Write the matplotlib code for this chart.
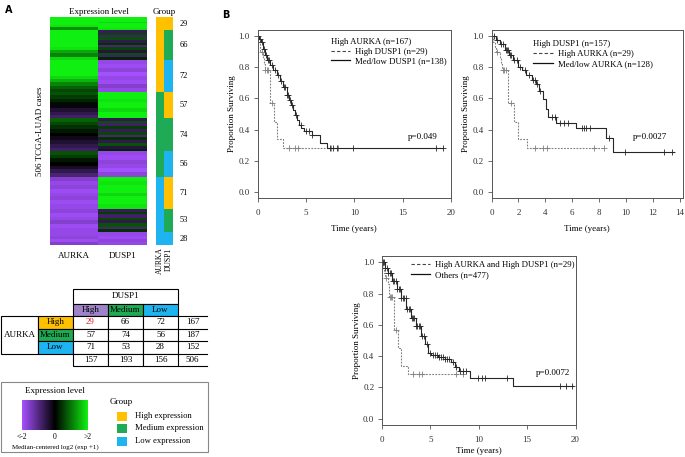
import numpy as np
import matplotlib
matplotlib.use("Agg")
import matplotlib.pyplot as plt
from matplotlib import transforms
from matplotlib.cm import ScalarMappable
from matplotlib.colors import LinearSegmentedColormap, Normalize, to_rgb
from matplotlib.lines import Line2D
from matplotlib.patches import Rectangle

W, H = 685, 457
plt.rcParams["font.family"] = "Liberation Serif"

# ---------------- data ----------------
levels = ["High", "Medium", "Low"]
# rows: AURKA high/medium/low, cols: DUSP1 high/medium/low
table_counts = [[29, 66, 72],
                [57, 74, 56],
                [71, 53, 28]]

# expression bands, top to bottom inside each group (median-centred log2)
aurka_bands = [
    [2, 2, 2, 1.9, 1.2],
    [2, 2, 2, 2, 2, 1.9, 1.4, 1.1, 1.8],
    [2, 2, 2, 2, 2, 1.8, 1.5, 1.1, 0.8, 0.6],
    [0.7, 0.5, 0.3, 0.1, -0.1, -0.4, -0.6, -0.8],
    [0.8, 0.6, 0.4, 0.2, 0.0, -0.2, -0.4, -0.6, -0.8],
    [0.7, 0.5, 0.2, 0.0, -0.3, -0.6, -0.9],
    [-1.6, -1.8, -1.7, -1.9, -1.8, -1.7, -1.9, -1.8],
    [-1.7, -1.9, -1.8, -1.6, -1.9, -1.8],
    [-1.8, -1.7, -1.9, -1.6],
]
dusp1_bands = [
    [2, 2, 1.8, 2, 2, 1.9],
    [-0.7, 0.6, -0.8, 0.7, -0.6, 0.4, -0.9, 0.6, -0.5, 0.7, -0.8, 0.3],
    [-1.8, -1.9, -1.7, -2, -1.8, -1.9, -1.6, -1.8],
    [2, 2, 1.9, 2, 2, 1.8, 2, 2],
    [-0.6, 0.7, -0.8, 0.5, -0.7, 0.6, -0.9, 0.4, -0.6, 0.7, -0.5, 0.3],
    [-1.8, -1.9, -1.7, -1.8, -2, -1.7],
    [2, 1.9, 2, 2, 1.8, 2, 2, 1.9],
    [-0.7, 0.5, -0.8, 0.6, -0.6, 0.7, -0.9, 0.4],
    [-1.8, -1.9, -1.7, -1.8],
]

# Kaplan-Meier: high AURKA and high DUSP1 (n=29), same group in all panels
hh_t = [0, 0.1, 0.25, 0.3, 0.6, 0.7, 0.75, 1.26, 1.70, 1.99, 2.66, 8.4]
hh_s = [1.0, 0.966, 0.931, 0.897, 0.86, 0.82, 0.78, 0.57, 0.45, 0.34, 0.284, 0.284]
hh_cens = [0.42, 0.82, 0.95, 1.08, 1.45, 3.25, 3.85, 4.15, 7.6, 8.35]

# high AURKA, med/low DUSP1 (n=138)
p1_t = [0, 0.2, 0.4, 0.6, 0.8, 1.0, 1.3, 1.6, 2.0, 2.3, 2.6, 3.0, 3.3, 3.5,
        3.7, 3.9, 4.1, 4.3, 4.5, 4.8, 5.59, 6.45, 7.14, 19.2]
p1_s = [1.0, 0.985, 0.96, 0.92, 0.88, 0.85, 0.818, 0.785, 0.753, 0.71, 0.674,
        0.625, 0.59, 0.56, 0.525, 0.496, 0.46, 0.43, 0.41, 0.39, 0.363, 0.315,
        0.279, 0.279]
p1_cens = [0.1, 0.3, 0.5, 0.7, 0.9, 1.1, 1.2, 1.5, 1.8, 2.1, 2.4, 2.7, 2.8,
           3.1, 3.2, 3.4, 3.6, 4.0, 4.45, 5.0, 5.3, 5.65, 7.5, 7.8, 8.2, 9.9,
           18.4, 19.2]

# high DUSP1, med/low AURKA (n=128)
p2_t = [0, 0.3, 0.6, 1.0, 1.3, 1.6, 2.0, 2.3, 2.6, 3.0, 3.3, 3.5, 3.8, 4.03,
        4.2, 4.8, 6.26, 8.49, 9.07, 13.6]
p2_s = [1.0, 0.975, 0.95, 0.91, 0.88, 0.85, 0.80, 0.78, 0.75, 0.72, 0.69,
        0.645, 0.595, 0.533, 0.482, 0.443, 0.41, 0.346, 0.258, 0.258]
p2_cens = [0.15, 0.4, 0.7, 0.85, 1.1, 1.18, 1.25, 1.35, 1.45, 1.7, 1.9, 2.1,
           2.5, 2.8, 3.1, 3.2, 3.4, 3.6, 4.5, 4.75, 5.1, 5.4, 5.7, 6.7, 6.9,
           7.05, 7.3, 8.75, 9.9, 12.85, 13.45]

# others (n=477)
p3_t = [0, 0.3, 0.6, 1.0, 1.5, 2.0, 2.5, 3.0, 3.5, 4.0, 4.4, 4.8, 5.1, 5.8,
        6.5, 7.1, 7.5, 8.0, 9.06, 13.55, 19.7]
p3_s = [1.0, 0.965, 0.93, 0.88, 0.83, 0.77, 0.70, 0.645, 0.59, 0.53, 0.475,
        0.42, 0.405, 0.395, 0.38, 0.36, 0.33, 0.305, 0.263, 0.207, 0.207]
p3_cens = [0.1, 0.2, 0.35, 0.5, 0.62, 0.8, 0.93, 1.1, 1.27, 1.4, 1.55, 1.72,
           1.85, 2.0, 2.17, 2.3, 2.46, 2.6, 2.77, 2.9, 3.05, 3.22, 3.35, 3.52,
           3.65, 3.8, 3.97, 4.1, 4.3, 4.6, 5.0, 5.3, 5.5, 5.7, 5.9, 6.1, 6.3,
           6.5, 6.7, 6.9, 7.3, 7.7, 8.1, 8.4, 8.7, 9.9, 10.3, 10.6, 12.9,
           18.4, 19.0, 19.6]

grp_colors = {"High": "#ffc000", "Medium": "#1faa55", "Low": "#1eb4f0"}
head_purple = "#9d84c8"
cmap = LinearSegmentedColormap.from_list("expr", ["#a550ff", "#000000", "#10f010"])

fig = plt.figure(figsize=(W / 100, H / 100), dpi=100)


def box(x0, y0, x1, y1, **kw):
    return fig.add_axes([x0 / W, 1 - y1 / H, (x1 - x0) / W, (y1 - y0) / H], **kw)


# overlay in pixel units, for the table and legend frame
ov = box(0, 0, W, H, zorder=-1)
ov.set_xlim(0, W)
ov.set_ylim(H, 0)
ov.axis("off")

ov.text(5, 10, "A", family="DejaVu Sans", weight="bold", fontsize=7, va="center")
ov.text(222, 15, "B", family="DejaVu Sans", weight="bold", fontsize=7, va="center")

# ---------------- heatmap ----------------
group_n = [c for row in table_counts for c in row]


def expand(bands, n):
    edges = np.linspace(0, n, len(bands) + 1).round().astype(int)
    return np.repeat(bands, np.diff(edges))


aurka_col = np.concatenate([expand(b, n) for b, n in zip(aurka_bands, group_n)])
dusp1_col = np.concatenate([expand(b, n) for b, n in zip(dusp1_bands, group_n)])
mat = np.column_stack([aurka_col, dusp1_col])

ax_h = box(50, 17, 147, 245)
ax_h.imshow(mat, aspect="auto", cmap=cmap, vmin=-2, vmax=2, interpolation="nearest")
ax_h.axis("off")
ax_h.set_title("Expression level", fontsize=6.5, pad=2)
tr = transforms.blended_transform_factory(ax_h.transData, ax_h.transAxes)
for i, g in enumerate(["AURKA", "DUSP1"]):
    ax_h.text(i, -0.03, g, transform=tr, ha="center", va="top", fontsize=6.5)
ax_h.text(-0.06, 0.5, "506 TCGA-LUAD cases", transform=ax_h.transAxes,
          rotation=90, ha="right", va="center", fontsize=6.5)

rgb = np.array([[to_rgb(grp_colors[levels[i // 3]]), to_rgb(grp_colors[levels[i % 3]])]
                for i, n in enumerate(group_n) for _ in range(n)])
ax_g = box(156, 17, 173, 245)
ax_g.imshow(rgb, aspect="auto", interpolation="nearest")
ax_g.axis("off")
ax_g.set_title("Group", fontsize=6.5, pad=2)
trg = transforms.blended_transform_factory(ax_g.transAxes, ax_g.transData)
start = 0
for n in group_n:
    ax_g.text(1.4, start + n / 2 - 0.5, str(n), transform=trg, ha="left",
              va="center", fontsize=6)
    start += n
trg2 = transforms.blended_transform_factory(ax_g.transData, ax_g.transAxes)
for i, g in enumerate(["AURKA", "DUSP1"]):
    ax_g.text(i, -0.01, g, transform=trg2, rotation=90, ha="center", va="top",
              fontsize=5.5)

# ---------------- contingency table ----------------
cx = [73, 108, 143, 178, 207]
ry = [316, 328.5, 341, 353.5, 366]
lw = 0.8
tfs = 6.5


def cell(x0, y0, x1, y1, fc="white", txt="", color="black"):
    ov.add_patch(Rectangle((x0, y0), x1 - x0, y1 - y0, fc=fc, ec="black", lw=lw))
    if txt:
        ov.text((x0 + x1) / 2, (y0 + y1) / 2, txt, ha="center", va="center",
                fontsize=tfs, color=color)


cell(cx[0], 289, cx[3], 304, txt="DUSP1")
for j, lv in enumerate(levels):
    fc = head_purple if lv == "High" else grp_colors[lv]
    cell(cx[j], 304, cx[j + 1], ry[0], fc=fc, txt=lv)
cell(1, ry[0], 38, ry[3], txt="AURKA")
for i, lv in enumerate(levels):
    cell(38, ry[i], cx[0], ry[i + 1], fc=grp_colors[lv], txt=lv)
for i in range(3):
    for j in range(3):
        col = "#e0202a" if (i, j) == (0, 0) else "black"
        cell(cx[j], ry[i], cx[j + 1], ry[i + 1], txt=str(table_counts[i][j]), color=col)
    ov.text((cx[3] + cx[4]) / 2, (ry[i] + ry[i + 1]) / 2, str(sum(table_counts[i])),
            ha="center", va="center", fontsize=tfs)
col_tot = [sum(r[j] for r in table_counts) for j in range(3)]
for j in range(3):
    cell(cx[j], ry[3], cx[j + 1], ry[4], txt=str(col_tot[j]))
ov.text((cx[3] + cx[4]) / 2, (ry[3] + ry[4]) / 2, str(sum(group_n)),
        ha="center", va="center", fontsize=tfs)
for y in ry:
    ov.plot([cx[3], cx[4]], [y, y], color="black", lw=lw)

# ---------------- legend box ----------------
ov.add_patch(Rectangle((1, 382), 207, 70, fc="white", ec="#888888", lw=0.8))
ov.text(55, 391, "Expression level", ha="center", va="center", fontsize=6.5)
ov.text(55, 447.5, "Median-centered log2 (exp +1)", ha="center", va="center", fontsize=5)
cax = box(22, 400, 88, 430)
cb = fig.colorbar(ScalarMappable(Normalize(-2, 2), cmap), cax=cax, orientation="horizontal")
cb.outline.set_visible(False)
cb.set_ticks([-2, 0, 2], labels=["<-2", "0", ">2"])
cax.tick_params(length=0, labelsize=5.5, pad=2)
ov.text(110, 401.5, "Group", ha="left", va="center", fontsize=6.5)
for k, (lv, lab) in enumerate(zip(levels, ["High expression", "Medium expression",
                                            "Low expression"])):
    yc = [416.5, 428.5, 441][k]
    ov.add_patch(Rectangle((117, yc - 4.5), 10, 9, fc=grp_colors[lv], ec="none"))
    ov.text(135, yc, lab, ha="left", va="center", fontsize=6.2)

# ---------------- survival panels ----------------
dash_style = dict(color="#808080", lw=0.8, ls=(0, (1.6, 1.2)))
solid_style = dict(color="#262626", lw=0.8, ls="-")


def surv_at(t, s, x):
    idx = np.searchsorted(t, x, side="right") - 1
    return np.asarray(s)[idx]


def km_panel(ax, xmax, xlim, xstep, curves, pval, pxy, xlab_y):
    for t, s, cens, st in curves:
        ax.step(t, s, where="post", **st)
        ax.plot(cens, surv_at(t, s, cens), ls="none", marker="+", ms=4, mew=0.6,
                color=st["color"])
    ax.set_xlim(0, xlim)
    ax.set_ylim(-0.04, 1.04)
    ax.set_xticks(np.arange(0, xmax + 1, xstep))
    ax.set_yticks([0, 0.2, 0.4, 0.6, 0.8, 1.0])
    ax.yaxis.set_major_formatter("{x:.1f}")
    ax.tick_params(direction="out", length=3, width=0.5, labelsize=6.5,
                   colors="#333333")
    ax.tick_params(axis="x", pad=5)
    ax.tick_params(axis="y", pad=2.5)
    for sp in ax.spines.values():
        sp.set_linewidth(0.7)
        sp.set_color("#555555")
    ax.set_xlabel("Time (years)", fontsize=6.5)
    ax.set_ylabel("Proportion Surviving", fontsize=6.5)
    ax.xaxis.set_label_coords(0.5, xlab_y)
    ax.yaxis.set_label_coords(-0.11, 0.5)
    ax.text(pxy[0], pxy[1], pval, fontsize=6.5, ha="left", va="center")


leg_dash = Line2D([], [], color="#444444", lw=0.8, ls=(0, (3, 2)))
leg_solid = Line2D([], [], color="#111111", lw=0.9)
leg_kw = dict(frameon=False, fontsize=6.3, handlelength=2.2, handletextpad=0.6,
              labelspacing=0.2, borderpad=0.2, borderaxespad=0.2)

ax1 = box(257.5, 30, 451, 198)
km_panel(ax1, 20, 20, 5,
         [(hh_t, hh_s, hh_cens, dash_style), (p1_t, p1_s, p1_cens, solid_style)],
         "p=0.049", (15.5, 0.355), -0.16)
ax1.legend([leg_dash, leg_solid], ["High DUSP1 (n=29)", "Med/low DUSP1 (n=138)"],
           title="High AURKA (n=167)", title_fontsize=6.3, loc="upper left",
           alignment="left", bbox_to_anchor=(0.36, 0.975), **leg_kw)

ax2 = box(491.5, 30, 683, 198)
km_panel(ax2, 14, 14.25, 2,
         [(hh_t, hh_s, hh_cens, dash_style), (p2_t, p2_s, p2_cens, solid_style)],
         "p=0.0027", (10.55, 0.355), -0.16)
ax2.legend([leg_dash, leg_solid], ["High AURKA (n=29)", "Med/low AURKA (n=128)"],
           title="High DUSP1 (n=157)", title_fontsize=6.3, loc="upper left",
           alignment="left", bbox_to_anchor=(0.2, 0.96), **leg_kw)

ax3 = box(382, 256, 575.5, 425)
km_panel(ax3, 20, 20, 5,
         [(hh_t, hh_s, hh_cens, dash_style), (p3_t, p3_s, p3_cens, solid_style)],
         "p=0.0072", (15.9, 0.295), -0.13)
ax3.legend([leg_dash, leg_solid], ["High AURKA and High DUSP1 (n=29)", "Others (n=477)"],
           loc="upper left", bbox_to_anchor=(0.13, 0.99), **leg_kw)

fig.savefig("out.png", dpi=100)
